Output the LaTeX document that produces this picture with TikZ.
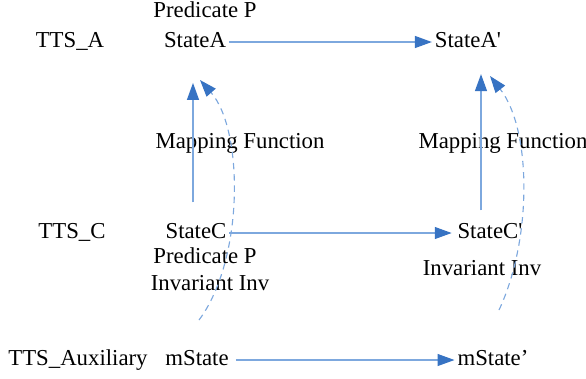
\documentclass[tikz,border=0pt]{standalone}
\usepackage{fontspec}
\setmainfont{Liberation Serif}
\usetikzlibrary{arrows.meta}
\definecolor{linkblue}{RGB}{125,168,222}
\definecolor{tipblue}{RGB}{55,115,195}
\tikzset{
  lbl/.style={inner sep=2pt, text height=11pt, text depth=3pt, font=\fontsize{16.2}{19}\selectfont},
  trans/.style={draw=linkblue, line width=0.8pt, -{Triangle[length=12pt,width=8.5pt,color=tipblue]}},
  mapping/.style={trans, dash pattern=on 4.5pt off 3.5pt}
}

\begin{document}
\begin{tikzpicture}[x=0.025cm,y=-0.025cm]
   \useasboundingbox (0,0) rectangle (586,378);
   % abstract level
   \draw (70,42) node[lbl] (ttsA) {TTS\_A};
   \draw (205,12) node[lbl] (predA) {Predicate P};
   \draw (195,42) node[lbl] (stateA) {StateA};
   \draw (468,42) node[lbl] (stateAp) {StateA\textquotesingle};
   % mapping labels
   \draw (240,143) node[lbl] (mapL) {Mapping Function};
   \draw (503,143) node[lbl] (mapR) {Mapping Function};
   % concrete level
   \draw (72,233) node[lbl] (ttsC) {TTS\_C};
   \draw (196,233) node[lbl] (stateC) {StateC};
   \draw (205,258) node[lbl] (predC) {Predicate P};
   \draw (210,285) node[lbl] (invC) {Invariant Inv};
   \draw (490,233) node[lbl] (stateCp) {StateC\textquotesingle};
   \draw (482,270) node[lbl] (invCp) {Invariant Inv};
   % auxiliary level
   \draw (78,360) node[lbl] (ttsX) {TTS\_Auxiliary};
   \draw (197,360) node[lbl] (mState) {mState};
   \draw (493,360) node[lbl] (mStatep) {mState’};
   \coordinate (mapLfrom) at (199,320);
   \coordinate (mapLto) at (200,80);
   \coordinate (mapRfrom) at (499,310);
   \coordinate (mapRto) at (490,76);

      \draw[trans] (stateA) -- (stateAp);
      \draw[trans, shorten >=2pt] (stateC) -- (stateCp);
      \draw[trans, shorten <=3pt] (mState) -- (mStatep);
      \draw[trans, shorten <=0.44cm, shorten >=0.7cm] (stateC.north -| 193,0) -- (stateA.south -| 193,0);
      \draw[trans, shorten <=0.24cm, shorten >=0.48cm] (stateCp.north -| 481,0) -- (stateAp.south -| 481,0);
      \draw[mapping] (mapLfrom) .. controls (244,260) and (244,130) .. (mapLto);
      \draw[mapping] (mapRfrom) .. controls (532,240) and (532,130) .. (mapRto);

\end{tikzpicture}
\end{document}
